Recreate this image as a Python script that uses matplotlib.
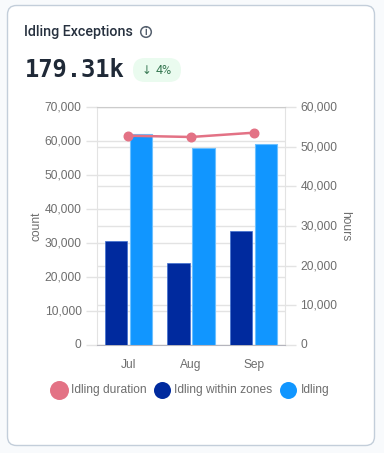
import matplotlib
matplotlib.use("Agg")
import matplotlib.pyplot as plt
import numpy as np
from matplotlib.lines import Line2D
from matplotlib.patches import Circle, FancyBboxPatch
from matplotlib.transforms import ScaledTranslation

plt.rcParams["font.family"] = ["Roboto", "DejaVu Sans"]

months = ["Jul", "Aug", "Sep"]
within_zones = [30500, 24000, 33500]
idling = [62000, 58000, 59000]
duration = [52760, 52440, 53520]
left_ticks = [0, 10000, 20000, 30000, 40000, 50000, 60000, 70000]
right_ticks = [0, 10000, 20000, 30000, 40000, 50000, 60000]

W, H = 384, 453
NAVY = "#002a9e"
BLUE = "#1196ff"
PINK = "#e37285"
GREY = "#6e6e6e"
GRID = "#e3e3e3"
CHART_FONT = "Liberation Sans"
FS = 8.64

fig = plt.figure(figsize=(W / 100, H / 100), dpi=100, facecolor="#f8fafc")

# page layer in pixel coordinates
bg = fig.add_axes([0, 0, 1, 1])
bg.set_xlim(0, W)
bg.set_ylim(H, 0)
bg.axis("off")
bg.add_patch(FancyBboxPatch((7.5, 5.5), 367, 440, boxstyle="round,pad=0,rounding_size=9",
                            fc="white", ec="#c3ceda", lw=1))

bg.text(24.5, 32, "Idling Exceptions", fontsize=10.3, fontweight="medium", color="#27313f",
        va="center", ha="left")
bg.add_patch(Circle((146, 32), 5.3, fc="none", ec="#55606e", lw=1.1))
bg.text(146, 32.2, "i", fontsize=7, fontweight="bold", color="#55606e", va="center", ha="center")
bg.text(25, 70, "179.31k", fontsize=17.1, fontweight="bold", color="#1f2937", va="center",
        ha="left", family=["DejaVu Sans Mono", "DejaVu Sans"])
bg.add_patch(FancyBboxPatch((133, 58), 48, 24, boxstyle="round,pad=0,rounding_size=12",
                            fc="#eafbef", ec="none"))
bg.text(147, 70, "↓", fontsize=8.5, color="#3a7a55", va="center", ha="center",
        family=["DejaVu Sans"])
bg.text(164, 70, "4%", fontsize=9, color="#3a7a55", va="center", ha="center")

# chart: right grid at the back, then bars, then the line
rect = [97 / W, 1 - 345 / H, 188 / W, 238 / H]
ax2 = fig.add_axes(rect, zorder=1)
ax2.set_facecolor("none")
ax2.set_xlim(-0.5, 2.5)
ax2.set_xticks([])
ax2.yaxis.tick_right()
ax2.yaxis.set_label_position("right")
ax2.set_ylim(0, 60000)
ax2.set_yticks(right_ticks, [f"{v:,}" for v in right_ticks], family=CHART_FONT)
ax2.set_ylabel("hours", fontsize=FS, color=GREY, rotation=270, labelpad=10, family=CHART_FONT)
ax2.grid(axis="y", color=GRID, lw=1)
ax2.tick_params(axis="y", length=8, color=GRID, width=1, pad=3, labelsize=FS, labelcolor=GREY)
for side in ["top", "left", "right", "bottom"]:
    ax2.spines[side].set_visible(False)

ax = fig.add_axes(rect, zorder=2)
ax.set_facecolor("none")
x = np.arange(len(months))
ax.bar(x - 0.2, within_zones, width=0.36, color=NAVY, edgecolor="#3f6fd0", linewidth=0.5, zorder=3)
ax.bar(x + 0.2, idling, width=0.36, color=BLUE, edgecolor="#6cc0ff", linewidth=0.8, zorder=3)
ax.set_xlim(-0.5, 2.5)
ax.set_ylim(0, 70000)
ax.set_xticks(x, months, family=CHART_FONT)
ax.set_yticks(left_ticks, [f"{v:,}" for v in left_ticks], family=CHART_FONT)
ax.set_ylabel("count", fontsize=FS, color=GREY, labelpad=1.5, family=CHART_FONT)
ax.grid(axis="y", color=GRID, lw=1, zorder=0)
ax.set_axisbelow(True)
ax.tick_params(axis="x", length=0, pad=10, labelsize=FS, labelcolor=GREY)
ax.tick_params(axis="y", length=8, color=GRID, width=1, pad=3, labelsize=FS, labelcolor=GREY)
for side in ["left", "right"]:
    ax.spines[side].set_color(GRID)
ax.spines["top"].set_color("#cccccc")
ax.spines["bottom"].set_color("#b5b5bd")

# nudge y tick labels up a pixel
nudge = ScaledTranslation(0, 1 / 100, fig.dpi_scale_trans)
for label in ax.get_yticklabels() + ax2.get_yticklabels():
    label.set_transform(label.get_transform() + nudge)

ax3 = fig.add_axes(rect, zorder=3)
ax3.axis("off")
ax3.set_xlim(-0.5, 2.5)
ax3.set_ylim(0, 60000)
ax3.plot(x, duration, color=PINK, lw=1.8, marker="o", ms=6.2, clip_on=False)

# legend drawn on top
top = fig.add_axes([0, 0, 1, 1], zorder=4)
top.set_xlim(0, W)
top.set_ylim(H, 0)
top.axis("off")
for cx, r, col, tx, label in [
    (59, 9.5, PINK, 71.3, "Idling duration"),
    (162.3, 8.5, NAVY, 174.3, "Idling within zones"),
    (288.3, 8.5, BLUE, 300.7, "Idling"),
]:
    top.add_line(Line2D([cx], [389.5], marker="o", ms=2 * r * 0.72, color=col, mec="none"))
    top.text(tx, 390, label, fontsize=FS, color=GREY, va="center", ha="left", family=CHART_FONT)

fig.savefig("out.png", dpi=100, facecolor=fig.get_facecolor())
